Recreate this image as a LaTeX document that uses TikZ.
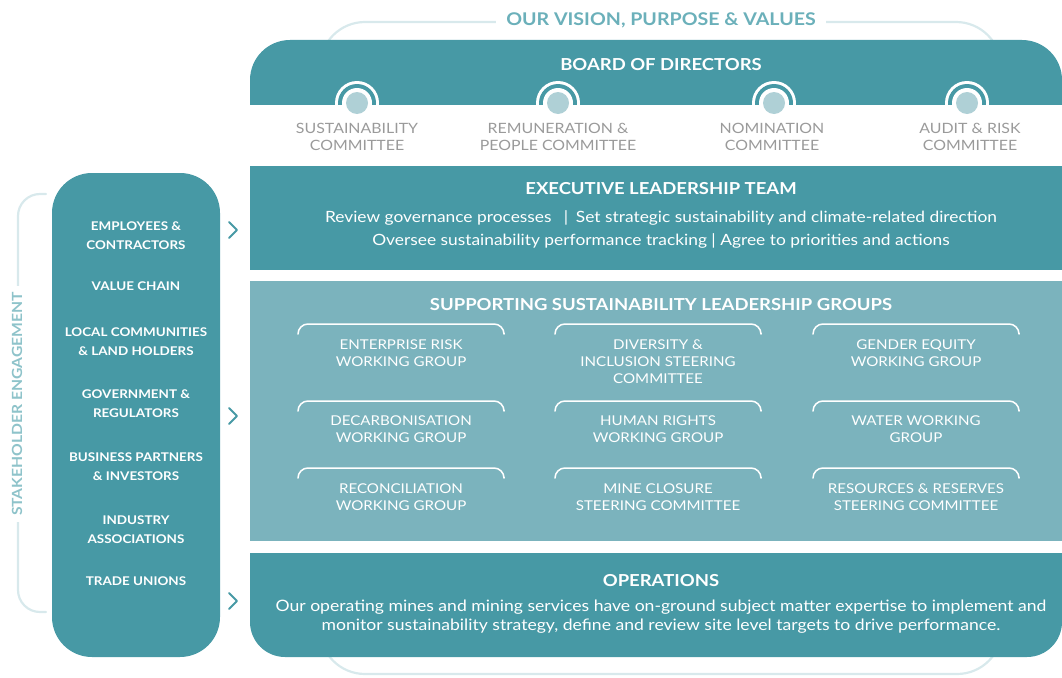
\documentclass[tikz,border=0pt]{standalone}
\usepackage{fontspec}
\setmainfont{Lato}[FakeStretch=1.12]
\definecolor{tealA}{HTML}{4799A5}
\definecolor{tealB}{HTML}{7BB3BD}
\definecolor{pale}{HTML}{D8E9EC}
\definecolor{dotc}{HTML}{AFD0D6}
\definecolor{visc}{HTML}{6BB0BA}
\definecolor{stkc}{HTML}{8EC3CA}
\definecolor{greyc}{HTML}{9A9A9A}
\begin{document}
\begin{tikzpicture}[x=1pt, y=-1pt, line join=round, line cap=round,
	head/.style={font=\bfseries\fontsize{16.5}{19}\selectfont, text=white},
	body/.style={font=\fontsize{15.5}{23}\selectfont, text=white, align=center},
	comm/.style={font=\fontsize{14.2}{17}\selectfont, text=greyc, align=center, anchor=north, inner sep=0pt},
	grp/.style={font=\fontsize{13.5}{17}\selectfont, text=white, align=center, anchor=north, inner sep=0pt},
	stk/.style={font=\bfseries\fontsize{12}{18.5}\selectfont, text=white, align=center, anchor=north, inner sep=0pt},
	visframe/.style={draw=pale, line width=2.2pt},
	grpcap/.style={draw=white, line width=1.5pt, rounded corners=10},
	chev/.style={draw=tealA, line width=2pt}]
	\useasboundingbox (0,0) rectangle (1062,677);
	\def\r{40} % corner radius
	% frame of vision, purpose & values
	\draw[visframe, rounded corners=45] (320,100)--(320,22)--(1001,22)--(1001,100);
	\draw[visframe, rounded corners=45] (320,600)--(320,674)--(1002,674)--(1002,600);
	\node[fill=white, inner xsep=10pt, text=visc, font=\bfseries\fontsize{17.5}{19}\selectfont] (vision) at (661,20) {OUR VISION, PURPOSE \& VALUES};
	% board of directors
	\begin{scope}
		\clip (240,0) rectangle (1070,104);
		\fill[tealA, rounded corners=\r] (250,40) rectangle (1062,200);
		\foreach \x in {357,558,774,967}{
			\fill[white] (\x,103) circle[radius=22];
			\fill[tealA] (\x,103) circle[radius=19];
		}
	\end{scope}
	\foreach \x in {357,558,774,967}{
		\fill[white] (\x,103) circle[radius=15];
		\fill[dotc] (\x,103) circle[radius=11];
	}
	\node[head] (board) at (661,65) {BOARD OF DIRECTORS};
	\foreach \x/\t [count=\i] in {357/{SUSTAINABILITY\\COMMITTEE}, 558/{REMUNERATION \&\\PEOPLE COMMITTEE}, 772/{NOMINATION\\COMMITTEE}, 970/{AUDIT \& RISK\\COMMITTEE}}
		\node[comm] (comm\i) at (\x,123) {\t};
	% executive leadership team
	\fill[tealA] (250,166) rectangle (1062,270);
	\node[head] (elt) at (661,189) {EXECUTIVE LEADERSHIP TEAM};
	\node[body] (elttext) at (661,229) {Review governance processes \enspace|\enspace Set strategic sustainability and climate-related direction\\Oversee sustainability performance tracking | Agree to priorities and actions};
	% supporting groups
	\fill[tealB] (250,281) rectangle (1062,541);
	\node[head] (support) at (661,305) {SUPPORTING SUSTAINABILITY LEADERSHIP GROUPS};
	\foreach \x in {401,658,916}
		\foreach \y in {324,401,468}
			\draw[grpcap] (\x-103,\y+9)--(\x-103,\y)--(\x+103,\y)--(\x+103,\y+9);
	\foreach \x/\y/\t [count=\i] in {401/340/{ENTERPRISE RISK\\WORKING GROUP}, 658/340/{DIVERSITY \&\\INCLUSION STEERING\\COMMITTEE}, 916/340/{GENDER EQUITY\\WORKING GROUP},
		401/416/{DECARBONISATION\\WORKING GROUP}, 658/416/{HUMAN RIGHTS\\WORKING GROUP}, 916/416/{WATER WORKING\\GROUP},
		401/484/{RECONCILIATION\\WORKING GROUP}, 658/484/{MINE CLOSURE\\STEERING COMMITTEE}, 916/484/{RESOURCES \& RESERVES\\STEERING COMMITTEE}}
		\node[grp] (grp\i) at (\x,\y) {\t};
	% operations
	\begin{scope}
		\clip (240,553) rectangle (1070,680);
		\fill[tealA, rounded corners=35] (250,500) rectangle (1062,657);
	\end{scope}
	\node[head] (ops) at (661,581) {OPERATIONS};
	\node[body, font=\fontsize{15.7}{19}\selectfont] (opstext) at (661,617) {Our operating mines and mining services have on-ground subject matter expertise to implement and\\monitor sustainability strategy, define and review site level targets to drive performance.};
	% stakeholders
	\fill[tealA, rounded corners=\r] (52,173) rectangle (220,657);
	\foreach \y/\t [count=\i] in {222/{EMPLOYEES \&\\CONTRACTORS}, 282/{VALUE CHAIN}, 328/{LOCAL COMMUNITIES\\\& LAND HOLDERS}, 390/{GOVERNMENT \&\\REGULATORS}, 453/{BUSINESS PARTNERS\\\& INVESTORS}, 516/{INDUSTRY\\ASSOCIATIONS}, 577/{TRADE UNIONS}}
		\node[stk] (stk\i) at (136,\y) {\t};
	\draw[visframe, rounded corners=22] (46,194)--(18,194)--(18,612)--(46,612);
	\node[fill=white, rotate=90, inner xsep=6pt, text=stkc, font=\bfseries\fontsize{14}{16}\selectfont] (engage) at (17,404) {STAKEHOLDER ENGAGEMENT};
	\foreach \y in {230,416,601}
		\draw[chev] (229,\y-8)--(237,\y)--(229,\y+8);
\end{tikzpicture}
\end{document}
